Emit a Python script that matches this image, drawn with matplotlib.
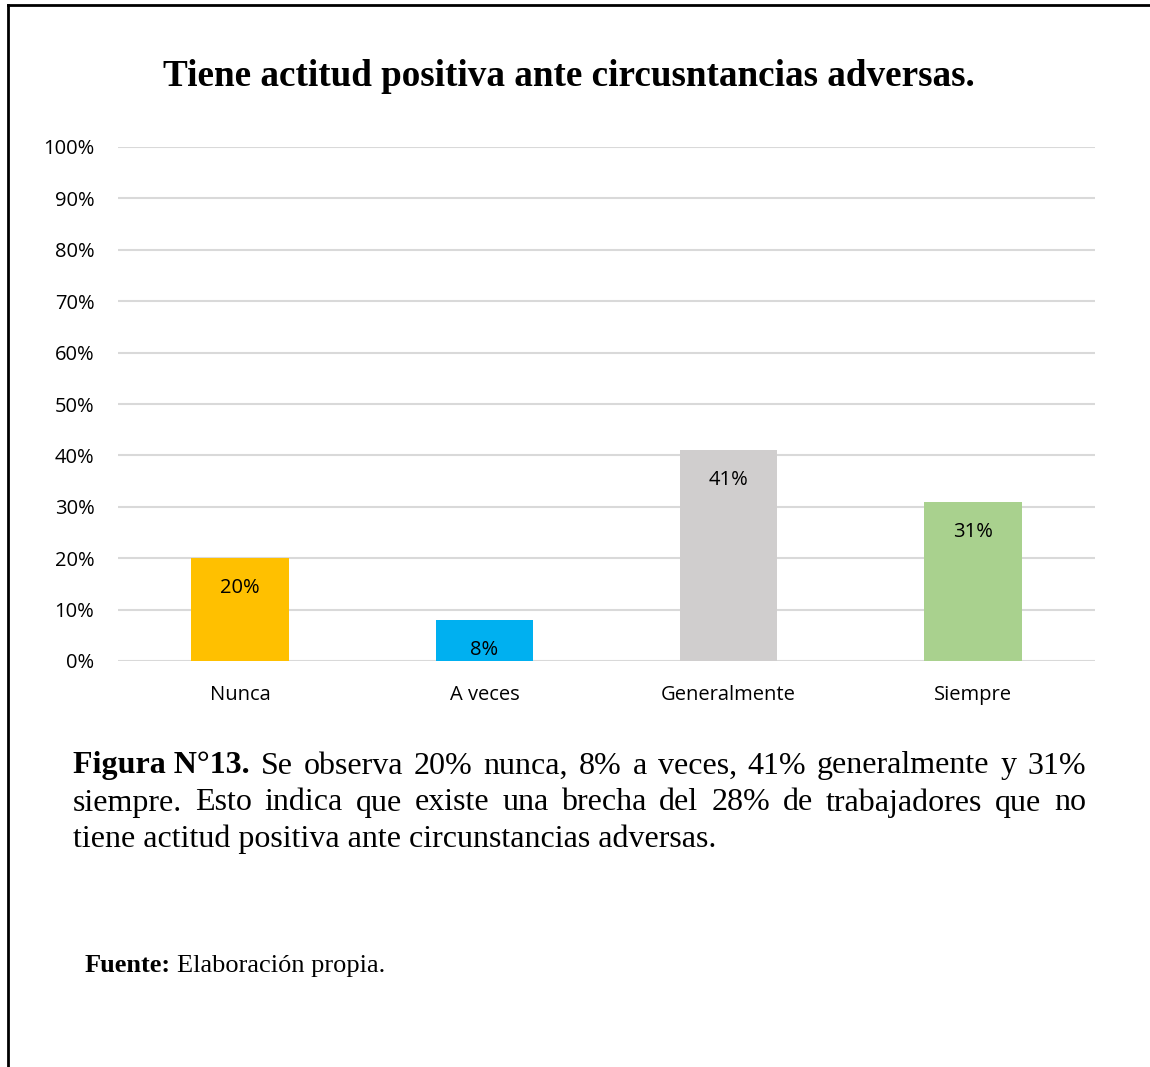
import matplotlib
matplotlib.use("Agg")
import matplotlib.pyplot as plt
from matplotlib.lines import Line2D

categories = ["Nunca", "A veces", "Generalmente", "Siempre"]
values = [20, 8, 41, 31]
colors = ["#FFC000", "#00B0F0", "#D0CECE", "#A9D18E"]
yticks = [0, 10, 20, 30, 40, 50, 60, 70, 80, 90, 100]
title = "Tiene actitud positiva ante circusntancias adversas."

W, H = 1150, 1067
fig = plt.figure(figsize=(W / 100, H / 100), dpi=100)

def fx(px):
    return px / W

def fy(py):
    return 1 - py / H

ax = fig.add_axes([fx(118), fy(661), fx(1095) - fx(118), fy(147) - fy(661)])
x = range(len(categories))
ax.bar(x, values, width=0.4, color=colors, zorder=3)
ax.set_xlim(-0.5, len(categories) - 0.5)
ax.set_ylim(0, 100)
ax.set_yticks(yticks)
ax.set_yticklabels([f"{v}%" for v in yticks], fontsize=14.5, family="Open Sans", color="#000000")
ax.set_xticks(list(x))
ax.set_xticklabels(categories, fontsize=14.5, family="Open Sans", color="#000000")
ax.tick_params(axis="both", length=0)
ax.tick_params(axis="x", pad=17)
ax.tick_params(axis="y", pad=17)
ax.grid(axis="y", color="#D9D9D9", linewidth=1.5, zorder=0)
for s in ax.spines.values():
    s.set_visible(False)

for xi, v in zip(x, values):
    ax.annotate(f"{v}%", (xi, v), xytext=(0, -21.5), textcoords="offset points",
                ha="center", va="center", fontsize=14.5, family="Open Sans", color="#000000")

fig.text(fx(569), fy(77), title, ha="center", va="center", fontsize=26.7,
         family="Liberation Serif", fontweight="bold")

# border
fig.add_artist(Line2D([fx(8), fx(8)], [fy(5), 0], color="black", linewidth=2, transform=fig.transFigure))
fig.add_artist(Line2D([fx(8), 1], [fy(5), fy(5)], color="black", linewidth=2, transform=fig.transFigure))

# caption (justified lines)
renderer = fig.canvas.get_renderer()
cap_size = 23
left_px, right_px = 73, 1086
lines = [
    [("Figura N°13.", "bold"), ("Se", "normal"), ("observa", "normal"), ("20%", "normal"), ("nunca,", "normal"),
     ("8%", "normal"), ("a", "normal"), ("veces,", "normal"), ("41%", "normal"), ("generalmente", "normal"),
     ("y", "normal"), ("31%", "normal")],
    [("siempre.", "normal"), ("Esto", "normal"), ("indica", "normal"), ("que", "normal"), ("existe", "normal"),
     ("una", "normal"), ("brecha", "normal"), ("del", "normal"), ("28%", "normal"), ("de", "normal"),
     ("trabajadores", "normal"), ("que", "normal"), ("no", "normal")],
]
line_y = [766, 803]
for words, ypx in zip(lines, line_y):
    texts = []
    widths = []
    for w, wt in words:
        t = fig.text(0, fy(ypx), w, fontsize=cap_size, family="Liberation Serif", fontweight=wt,
                     ha="left", va="center")
        bb = t.get_window_extent(renderer=renderer)
        texts.append(t)
        widths.append(bb.width)
    total = sum(widths)
    gap = (right_px - left_px - total) / (len(words) - 1)
    cur = left_px
    for t, wdt in zip(texts, widths):
        t.set_x(fx(cur))
        cur += wdt + gap

fig.text(fx(left_px), fy(839), "tiene actitud positiva ante circunstancias adversas.", fontsize=cap_size,
         family="Liberation Serif", ha="left", va="center")

# source
t1 = fig.text(fx(85), fy(966), "Fuente:", fontsize=19, family="Liberation Serif", fontweight="bold",
              ha="left", va="center")
bb = t1.get_window_extent(renderer=renderer)
fig.text(fx(85) + (bb.width + 6) / W, fy(966), "Elaboración propia.", fontsize=19,
         family="Liberation Serif", ha="left", va="center")

fig.savefig("out.png", dpi=100)
